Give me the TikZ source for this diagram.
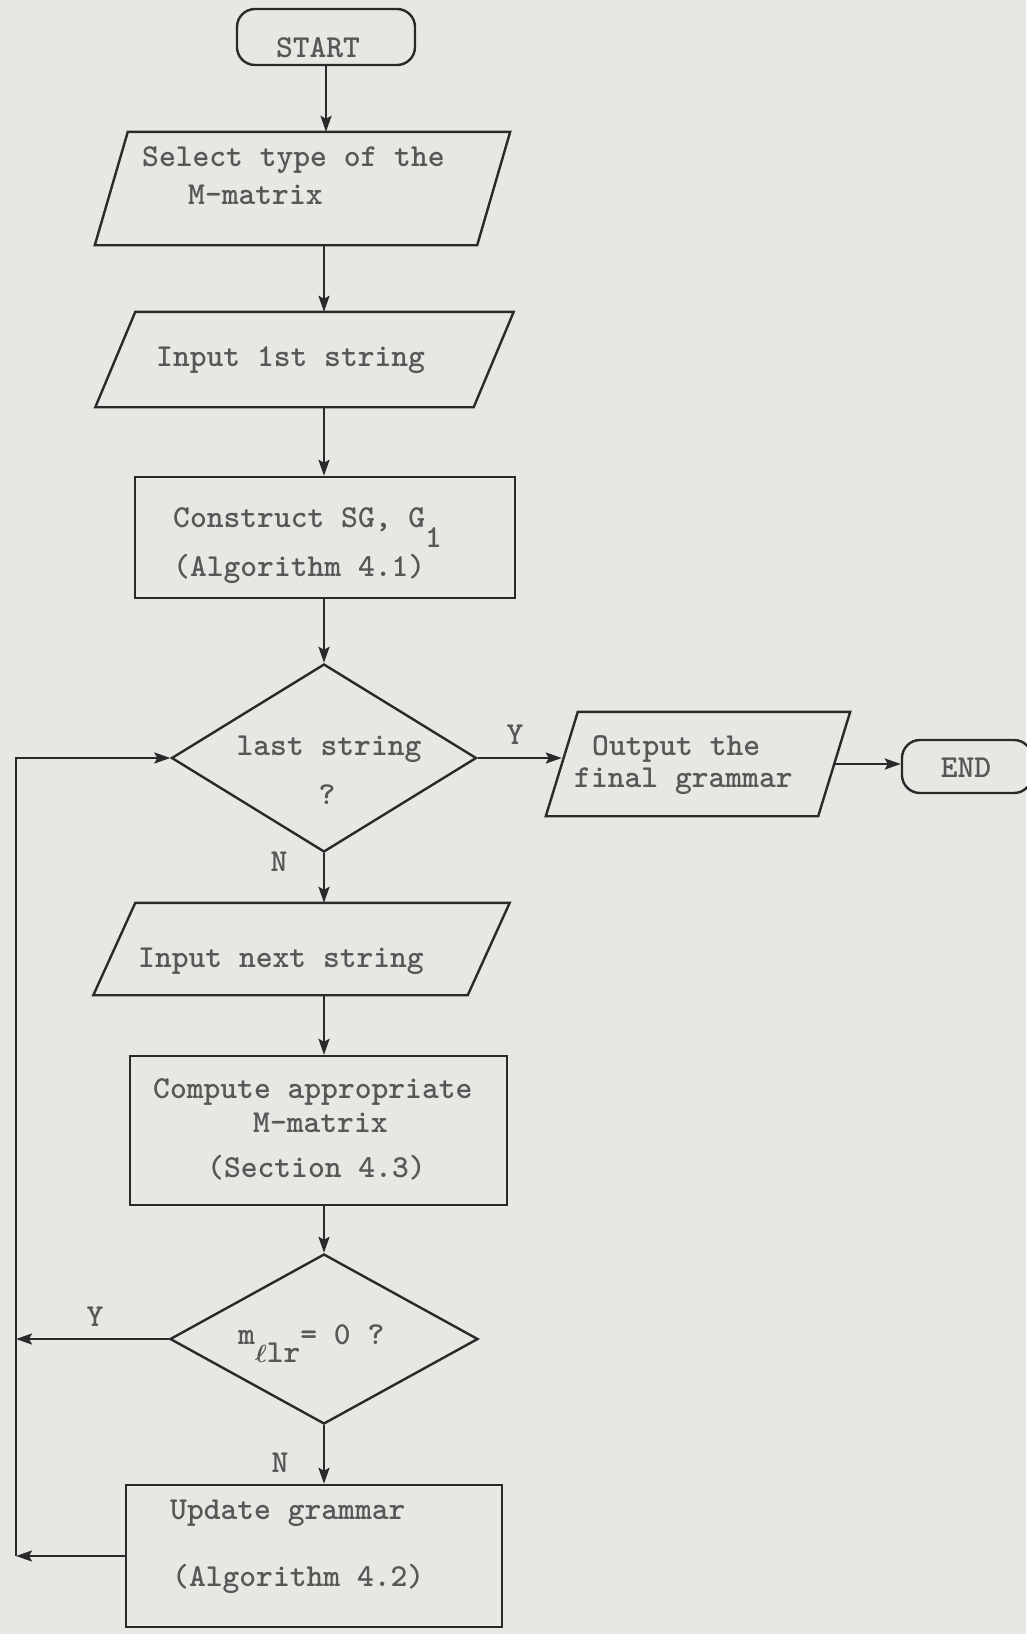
\documentclass[tikz,border=0pt]{standalone}
\usetikzlibrary{shapes.geometric,arrows.meta,calc}
\definecolor{paper}{HTML}{E7E8E3}
\definecolor{ink}{HTML}{2A2A2A}
\definecolor{typeink}{HTML}{575757}
\newcommand\twfont{\fontsize{32}{38}\selectfont\ttfamily\bfseries}
% parallelogram (input/output): invisible body node plus slanted outline
\newcommand\parabox[6]{%
  \node[anchorbox,minimum width=#4pt,minimum height=#5pt] (#1) at (#2,#3) {};
  \draw[ln] ([xshift=-#6/2]#1.south west) -- ([xshift=-#6/2]#1.south east)
    -- ([xshift=#6/2]#1.north east) -- ([xshift=#6/2]#1.north west) -- cycle;}
\begin{document}
\begin{tikzpicture}[x=1pt,y=-1pt,
  ln/.style={draw=ink,line width=2.4pt},
  arr/.style={ln,-{Stealth[length=16pt,width=11pt,inset=3pt]}},
  txt/.style={inner sep=0pt,text=typeink,font=\twfont},
  procbox/.style={ln,rectangle,inner sep=0pt},
  decide/.style={ln,diamond,inner sep=0pt},
  term/.style={ln,rectangle,rounded corners=18pt,inner sep=0pt},
  anchorbox/.style={rectangle,inner sep=0pt}]

\fill[paper] (0,0) rectangle (1026,1634);
\useasboundingbox (0,0) rectangle (1026,1634);

% main column and loop-back column
\coordinate (col) at (324,0);
\coordinate (loopx) at (16,0);

% --- shapes ---
\node[term,minimum width=178pt,minimum height=56pt] (start) at (326,37) {};
\parabox{sel}{302.5}{188.5}{382}{113}{33}
\parabox{inone}{304.5}{359.5}{378}{95}{40}
\node[procbox,minimum width=380pt,minimum height=121pt] (cons) at (325,537.5) {};
\node[decide,minimum width=305pt,minimum height=188pt] (dlast) at (324,758) {};
\parabox{outp}{698}{764}{272}{104}{32}
\node[term,minimum width=130pt,minimum height=53pt] (fin) at (967,766.5) {};
\parabox{innext}{301.5}{949}{374}{92}{42}
\node[procbox,minimum width=377pt,minimum height=149pt] (comp) at (318.5,1130.5) {};
\node[decide,minimum width=308pt,minimum height=170pt] (dzero) at (324,1339) {};
\node[procbox,minimum width=376pt,minimum height=142pt] (upd) at (314,1556) {};

% --- texts ---
\node[txt,anchor=base] (startT) at (318,57) {START};
\node[txt,anchor=base west] (selT1) at (142,166) {Select type of the};
\node[txt,anchor=base west] (selT2) at (188,204) {M-matrix};
\node[txt,anchor=base west] (inoneT) at (156,366) {Input 1st string};
\node[txt,anchor=base west] (consT1) at (173,527) {Construct SG, G\raisebox{-20pt}{1}};
\node[txt,anchor=base west] (consT2) at (173,576) {(Algorithm 4.1)};
\node[txt,anchor=base] (dlastT1) at (329,755) {last string};
\node[txt,anchor=base] (dlastT2) at (327,804) {?};
\node[txt,anchor=base west] (outT1) at (592,755) {Output the};
\node[txt,anchor=base west] (outT2) at (574,787) {final grammar};
\node[txt,anchor=base] (finT) at (966,777) {END};
\node[txt,anchor=base west] (innextT) at (138,967) {Input next string};
\node[txt,anchor=base west] (compT1) at (153,1098) {Compute appropriate};
\node[txt,anchor=base west] (compT2) at (253,1132) {M-matrix};
\node[txt,anchor=base west] (compT3) at (207,1177) {(Section 4.3)};
\node[txt,anchor=base west] (dzeroT) at (238,1344) {m\raisebox{-18pt}{{\boldmath$\ell$}lr}= 0 ?};
\node[txt,anchor=base west] (updT1) at (170,1519) {Update grammar};
\node[txt,anchor=base west] (updT2) at (172,1586) {(Algorithm 4.2)};

% branch labels
\node[txt,anchor=base] (yone) at (515,744) {Y};
\node[txt,anchor=base] (none) at (279,871) {N};
\node[txt,anchor=base] (ytwo) at (95,1326) {Y};
\node[txt,anchor=base] (ntwo) at (280,1472) {N};

% --- connectors ---
\draw[arr] (start.south) -- (start.south |- sel.north);
\draw[arr] (sel.south -| col) -- (inone.north -| col);
\draw[arr] (inone.south -| col) -- (cons.north -| col);
\draw[arr] (cons.south -| col) -- (dlast.north);
\draw[arr] (dlast.east) -- (dlast.east -| outp.west);
\draw[arr] (outp.east) -- (outp.east -| fin.west);
\draw[arr] (dlast.south) -- (dlast.south |- innext.north);
\draw[arr] (innext.south -| col) -- (comp.north -| col);
\draw[arr] (comp.south -| col) -- (dzero.north);
\draw[arr] (dzero.south) -- (dzero.south |- upd.north);
\draw[arr] (dzero.west) -- (dzero.west -| loopx);
\draw[arr] (upd.west) -- (upd.west -| loopx);
\draw[arr] (upd.west -| loopx) -- (dlast.west -| loopx) -- (dlast.west);
\end{tikzpicture}
\end{document}
